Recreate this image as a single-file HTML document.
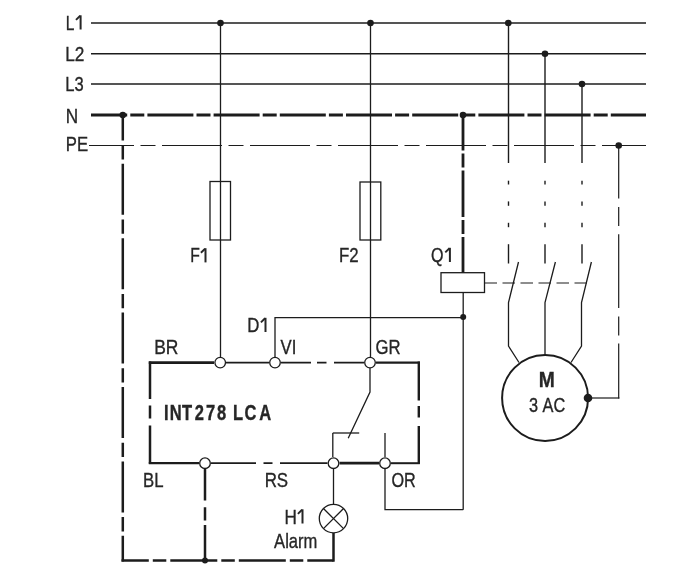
<!DOCTYPE html>
<html><head><meta charset="utf-8"><style>
html,body{margin:0;padding:0;background:#fff;width:700px;height:567px;overflow:hidden}
svg{display:block} .t{will-change:transform}
</style></head><body>
<svg width="700" height="567" viewBox="0 0 700 567">
<g stroke="#1c1c1c" fill="none">
<line x1="91" y1="23" x2="646" y2="23" stroke-width="1.5" stroke-linecap="butt"/>
<line x1="91" y1="53.7" x2="646" y2="53.7" stroke-width="1.5" stroke-linecap="butt"/>
<line x1="91" y1="84" x2="646" y2="84" stroke-width="1.5" stroke-linecap="butt"/>
<line x1="91" y1="115" x2="646" y2="115" stroke-width="2.8" stroke-dasharray="46 3.1 14 3.1" stroke-dashoffset="9.799999999999997" stroke-linecap="butt"/>
<line x1="89" y1="145.5" x2="646" y2="145.5" stroke-width="1.1" stroke-dasharray="60 6.5 15 6.5" stroke-dashoffset="15" stroke-linecap="butt"/>
<circle cx="220.5" cy="23" r="3.3" fill="#1c1c1c" stroke="none"/>
<circle cx="370.5" cy="23" r="3.3" fill="#1c1c1c" stroke="none"/>
<circle cx="508.3" cy="23" r="3.3" fill="#1c1c1c" stroke="none"/>
<circle cx="545" cy="53.7" r="3.3" fill="#1c1c1c" stroke="none"/>
<circle cx="582" cy="84" r="3.3" fill="#1c1c1c" stroke="none"/>
<circle cx="122.8" cy="115" r="3.3" fill="#1c1c1c" stroke="none"/>
<circle cx="463" cy="115" r="3.3" fill="#1c1c1c" stroke="none"/>
<circle cx="618.7" cy="145.5" r="3.3" fill="#1c1c1c" stroke="none"/>
<line x1="220.5" y1="23" x2="220.5" y2="357" stroke-width="1.3" stroke-linecap="butt"/>
<rect x="210" y="181.5" width="20.5" height="58.5" fill="none" stroke-width="1.3"/>
<line x1="370.5" y1="23" x2="370.5" y2="357" stroke-width="1.3" stroke-linecap="butt"/>
<rect x="360" y="182" width="20.80000000000001" height="58" fill="none" stroke-width="1.3"/>
<line x1="508.5" y1="23" x2="508.5" y2="163" stroke-width="1.4" stroke-linecap="butt"/>
<line x1="508.5" y1="180.7" x2="508.5" y2="184.5" stroke-width="1.4" stroke-linecap="butt"/>
<line x1="508.5" y1="201.4" x2="508.5" y2="205.8" stroke-width="1.4" stroke-linecap="butt"/>
<line x1="508.5" y1="222.8" x2="508.5" y2="227.2" stroke-width="1.4" stroke-linecap="butt"/>
<line x1="508.5" y1="244.2" x2="508.5" y2="263.5" stroke-width="1.4" stroke-linecap="butt"/>
<line x1="545" y1="53.7" x2="545" y2="163" stroke-width="1.4" stroke-linecap="butt"/>
<line x1="545" y1="180.7" x2="545" y2="184.5" stroke-width="1.4" stroke-linecap="butt"/>
<line x1="545" y1="201.4" x2="545" y2="205.8" stroke-width="1.4" stroke-linecap="butt"/>
<line x1="545" y1="222.8" x2="545" y2="227.2" stroke-width="1.4" stroke-linecap="butt"/>
<line x1="545" y1="244.2" x2="545" y2="263.5" stroke-width="1.4" stroke-linecap="butt"/>
<line x1="582" y1="84" x2="582" y2="163" stroke-width="1.4" stroke-linecap="butt"/>
<line x1="582" y1="180.7" x2="582" y2="184.5" stroke-width="1.4" stroke-linecap="butt"/>
<line x1="582" y1="201.4" x2="582" y2="205.8" stroke-width="1.4" stroke-linecap="butt"/>
<line x1="582" y1="222.8" x2="582" y2="227.2" stroke-width="1.4" stroke-linecap="butt"/>
<line x1="582" y1="244.2" x2="582" y2="263.5" stroke-width="1.4" stroke-linecap="butt"/>
<polyline points="518.5,262 508.5,302.5 508.5,346 519,362.5" fill="none" stroke-width="1.3"/>
<polyline points="555.4,262 545,302.5 545,355" fill="none" stroke-width="1.3"/>
<polyline points="591.4,262 581.5,302.5 581.5,346 571,362.5" fill="none" stroke-width="1.3"/>
<line x1="484.5" y1="283" x2="587" y2="283" stroke-width="1.1" stroke-dasharray="12.5 5.5" stroke-dashoffset="0" stroke-linecap="butt"/>
<circle cx="545.1" cy="398" r="43" fill="none" stroke-width="2"/>
<line x1="588" y1="398" x2="619.4" y2="398" stroke-width="1.2" stroke-linecap="butt"/>
<line x1="618.7" y1="145.5" x2="618.7" y2="398.6" stroke-width="1.2" stroke-dasharray="73.8 8.5 19 8.1" stroke-dashoffset="20.700000000000003" stroke-linecap="butt"/>
<circle cx="588" cy="398" r="4.3" fill="#1c1c1c" stroke="none"/>
<line x1="122.8" y1="115" x2="122.8" y2="561.5" stroke-width="2.5" stroke-dasharray="51 4.7 14.3 4.4" stroke-dashoffset="25.599999999999994" stroke-linecap="butt"/>
<line x1="121.5" y1="560.5" x2="333.5" y2="560.5" stroke-width="2.5" stroke-dasharray="47 4 13.5 4" stroke-dashoffset="19.700000000000003" stroke-linecap="butt"/>
<line x1="333.5" y1="533" x2="333.5" y2="561.7" stroke-width="2.5" stroke-linecap="butt"/>
<line x1="205" y1="469" x2="205" y2="560.5" stroke-width="2.5" stroke-dasharray="31.6 6.6 13.2 4.6 100" stroke-dashoffset="0" stroke-linecap="butt"/>
<circle cx="205" cy="560.5" r="3" fill="#1c1c1c" stroke="none"/>
<line x1="463" y1="115" x2="463" y2="272.7" stroke-width="2.8" stroke-dasharray="46.5 3 14 3" stroke-dashoffset="11" stroke-linecap="butt"/>
<rect x="441" y="272.7" width="43.5" height="19.80000000000001" fill="none" stroke-width="1.3"/>
<line x1="463.2" y1="292.5" x2="463.2" y2="509.7" stroke-width="1.3" stroke-linecap="butt"/>
<circle cx="463.2" cy="317" r="3" fill="#1c1c1c" stroke="none"/>
<polyline points="275,357 275,317.7 463.2,317.7" fill="none" stroke-width="1.3"/>
<polyline points="385,469 385,509.7 463.2,509.7" fill="none" stroke-width="1.3"/>
<line x1="148.8" y1="362.6" x2="214" y2="362.6" stroke-width="2.6" stroke-linecap="butt"/>
<line x1="226" y1="362.6" x2="269" y2="362.6" stroke-width="1.7" stroke-linecap="butt"/>
<line x1="281" y1="362.6" x2="364" y2="362.6" stroke-width="1.7" stroke-dasharray="30 6 9.5 7.5 100" stroke-dashoffset="0" stroke-linecap="butt"/>
<line x1="376" y1="362.6" x2="419.90000000000003" y2="362.6" stroke-width="2.1" stroke-linecap="butt"/>
<line x1="150" y1="361.40000000000003" x2="150" y2="463.7" stroke-width="2.5" stroke-dasharray="37.5 6.5 13 7 100" stroke-dashoffset="0" stroke-linecap="butt"/>
<line x1="418.8" y1="361.40000000000003" x2="418.8" y2="463.7" stroke-width="2.4" stroke-dasharray="39 5.5 11.5 8.5 100" stroke-dashoffset="0" stroke-linecap="butt"/>
<line x1="148.8" y1="463.2" x2="199" y2="463.2" stroke-width="2.2" stroke-linecap="butt"/>
<line x1="211" y1="463.2" x2="327.5" y2="463.2" stroke-width="1.8" stroke-dasharray="45 7.5 9 7.5 100" stroke-dashoffset="0" stroke-linecap="butt"/>
<line x1="339.5" y1="463.2" x2="379" y2="463.2" stroke-width="2.8" stroke-linecap="butt"/>
<line x1="391" y1="463.2" x2="419.90000000000003" y2="463.2" stroke-width="2.0" stroke-linecap="butt"/>
<polyline points="370,368 370,392 348.2,438.2" fill="none" stroke-width="1.3"/>
<line x1="332.8" y1="433" x2="359.2" y2="433" stroke-width="1.3" stroke-linecap="butt"/>
<line x1="332.8" y1="433" x2="332.8" y2="457" stroke-width="1.3" stroke-linecap="butt"/>
<line x1="385" y1="433" x2="385" y2="457" stroke-width="1.3" stroke-linecap="butt"/>
<line x1="333.5" y1="469" x2="333.5" y2="504.3" stroke-width="1.3" stroke-linecap="butt"/>
<circle cx="333.5" cy="518.6" r="14.2" fill="none" stroke-width="1.3"/>
<line x1="323.45918" y1="508.55918" x2="343.54082" y2="528.6408200000001" stroke-width="1.3" stroke-linecap="butt"/>
<line x1="323.45918" y1="528.6408200000001" x2="343.54082" y2="508.55918" stroke-width="1.3" stroke-linecap="butt"/>
<circle cx="220.2" cy="362.6" r="5.3" fill="#fff" stroke-width="1.3"/>
<circle cx="275" cy="362.6" r="5.3" fill="#fff" stroke-width="1.3"/>
<circle cx="370" cy="362.6" r="5.3" fill="#fff" stroke-width="1.3"/>
<circle cx="205" cy="463.2" r="5.3" fill="#fff" stroke-width="1.3"/>
<circle cx="333.5" cy="463.2" r="5.3" fill="#fff" stroke-width="1.3"/>
<circle cx="385" cy="463.2" r="5.3" fill="#fff" stroke-width="1.3"/>
</g>
<g class="t" fill="#262626" stroke="#262626" stroke-width="0.35" font-family="Liberation Sans, sans-serif">
<text transform="translate(65.66,29.5) scale(0.775,1)" font-size="20">L</text>
<text transform="translate(65.22,60.6) scale(0.862,1)" font-size="20">L2</text>
<text transform="translate(65.27,91) scale(0.828,1)" font-size="20">L3</text>
<text transform="translate(65.73,123) scale(0.857,1)" font-size="20">N</text>
<text transform="translate(65.76,150.6) scale(0.835,1)" font-size="20">PE</text>
<text transform="translate(190.34,262.4) scale(0.786,1)" font-size="20">F</text>
<text transform="translate(338.96,262.3) scale(0.841,1)" font-size="20">F2</text>
<text transform="translate(430.98,262) scale(0.803,1)" font-size="20">Q</text>
<text transform="translate(247.36,332) scale(0.840,1)" font-size="20">D</text>
<text transform="translate(154.20,353.6) scale(0.873,1)" font-size="20">BR</text>
<text transform="translate(280.62,353.6) scale(0.835,1)" font-size="20">VI</text>
<text transform="translate(375.46,353.7) scale(0.836,1)" font-size="20">GR</text>
<text transform="translate(163.93,419.6) scale(0.730,1)" font-size="22.6" font-weight="bold" stroke-width="0.4">I</text>
<text transform="translate(169.66,419.6) scale(0.730,1)" font-size="22.6" font-weight="bold" stroke-width="0.4">N</text>
<text transform="translate(181.97,419.6) scale(0.730,1)" font-size="22.6" font-weight="bold" stroke-width="0.4">T</text>
<text transform="translate(194.66,419.6) scale(0.730,1)" font-size="22.6" font-weight="bold" stroke-width="0.4">2</text>
<text transform="translate(205.97,419.6) scale(0.730,1)" font-size="22.6" font-weight="bold" stroke-width="0.4">7</text>
<text transform="translate(216.92,419.6) scale(0.730,1)" font-size="22.6" font-weight="bold" stroke-width="0.4">8</text>
<text transform="translate(232.88,419.6) scale(0.730,1)" font-size="22.6" font-weight="bold" stroke-width="0.4">L</text>
<text transform="translate(244.49,419.6) scale(0.730,1)" font-size="22.6" font-weight="bold" stroke-width="0.4">C</text>
<text transform="translate(259.21,419.6) scale(0.730,1)" font-size="22.6" font-weight="bold" stroke-width="0.4">A</text>
<text transform="translate(143.06,487.2) scale(0.838,1)" font-size="20">BL</text>
<text transform="translate(264.65,487.3) scale(0.846,1)" font-size="20">RS</text>
<text transform="translate(391.47,487.3) scale(0.811,1)" font-size="20">OR</text>
<text transform="translate(284.43,523.5) scale(0.857,1)" font-size="20">H</text>
<text transform="translate(274.12,548.3) scale(0.829,1)" font-size="20">Alarm</text>
<text transform="translate(538.85,386.8) scale(0.839,1)" font-size="23" font-weight="bold">M</text>
<text transform="translate(528.95,411.8) scale(0.816,1)" font-size="20">3&#160;AC</text>
</g>
<g fill="#262626" stroke="#262626" stroke-width="0">
<rect x="79.60" y="15.30" width="2" height="14.2"/>
<line x1="80.20" y1="15.80" x2="76.00" y2="19.90" stroke-width="1.9"/>
<rect x="204.50" y="248.20" width="2" height="14.2"/>
<line x1="205.10" y1="248.70" x2="200.90" y2="252.80" stroke-width="1.9"/>
<rect x="448.90" y="247.80" width="2" height="14.2"/>
<line x1="449.50" y1="248.30" x2="445.30" y2="252.40" stroke-width="1.9"/>
<rect x="264.50" y="317.80" width="2" height="14.2"/>
<line x1="265.10" y1="318.30" x2="260.90" y2="322.40" stroke-width="1.9"/>
<rect x="301.50" y="509.30" width="2" height="14.2"/>
<line x1="302.10" y1="509.80" x2="297.90" y2="513.90" stroke-width="1.9"/>
</g>
</svg></body></html>
